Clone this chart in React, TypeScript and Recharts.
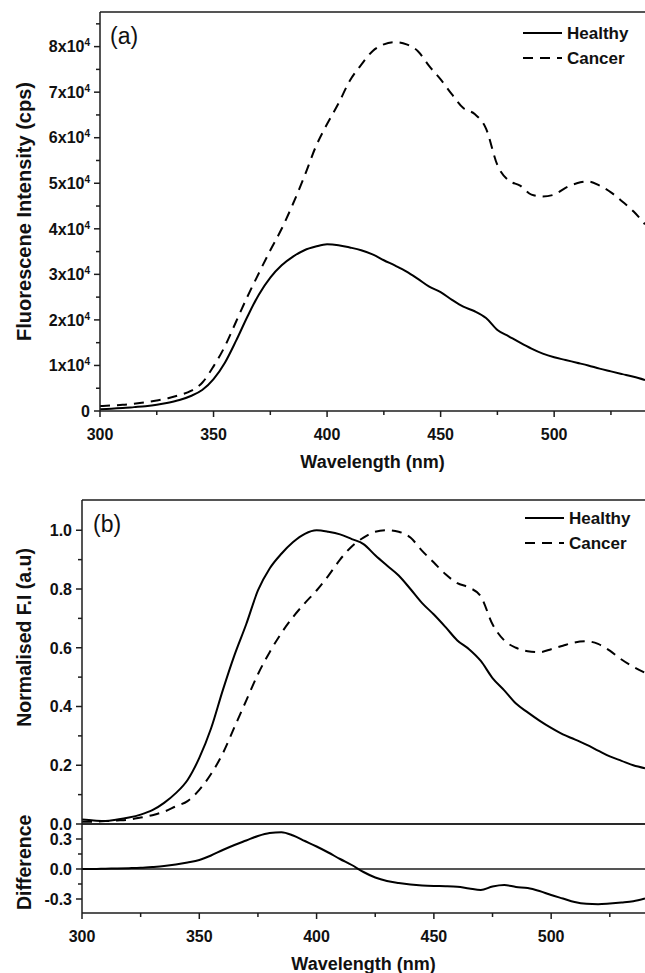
import React from 'react';
import { LineChart, Line, XAxis, YAxis, Legend, Label, ReferenceLine } from 'recharts';

// ---------- data ----------
const wavelengths = [
  300, 305, 310, 315, 320, 325, 330, 335, 340, 345, 350, 355, 360, 365, 370, 375, 380, 385, 390, 395,
  400, 405, 410, 415, 420, 425, 430, 435, 440, 445, 450, 455, 460, 465, 470, 475, 480, 485, 490, 495,
  500, 505, 510, 515, 520, 525, 530, 535, 540,
];

// Panel (a): raw fluorescence intensity (cps)
const healthyRaw = [
  400, 500, 650, 850, 1050, 1350, 1800, 2400, 3300, 4600, 7000, 10600, 15500, 20800, 25600, 29300, 32000, 33900, 35300, 36100,
  36600, 36400, 35900, 35300, 34400, 33100, 31900, 30600, 29000, 27300, 26100, 24400, 22900, 21900, 20400, 17800, 16400, 15000, 13700, 12600,
  11800, 11200, 10600, 10000, 9300, 8700, 8100, 7500, 6800,
];
const cancerRaw = [
  1100, 1200, 1350, 1600, 1900, 2300, 2800, 3500, 4400, 6200, 9800, 14200, 19700, 25200, 30300, 35300, 40000, 45500, 51500, 58000,
  63000, 67500, 72500, 76000, 79000, 80500, 81000, 80500, 79000, 75700, 72800, 69500, 66500, 65200, 62000, 54000, 50600, 49500, 47500, 47100,
  47500, 49000, 50000, 50400, 49500, 48000, 46000, 43800, 41000,
];

// Panel (b): normalised intensity
const healthyNorm = [
  0.015, 0.012, 0.01, 0.015, 0.022, 0.032, 0.047, 0.072, 0.105, 0.15, 0.225, 0.325, 0.455, 0.575, 0.68, 0.795, 0.87, 0.92, 0.96, 0.988,
  1.0, 0.995, 0.986, 0.97, 0.953, 0.915, 0.88, 0.846, 0.8, 0.752, 0.713, 0.67, 0.625, 0.595, 0.555, 0.497, 0.455, 0.41, 0.38, 0.352,
  0.327, 0.305, 0.288, 0.27, 0.25, 0.23, 0.215, 0.2, 0.19,
];
const cancerNorm = [
  0.008, 0.008, 0.01, 0.012, 0.015, 0.022, 0.03, 0.042, 0.06, 0.078, 0.116, 0.17, 0.24, 0.33, 0.42, 0.51, 0.585, 0.65, 0.705, 0.752,
  0.795, 0.845, 0.9, 0.945, 0.975, 0.995, 1.0, 0.995, 0.975, 0.93, 0.89, 0.85, 0.82, 0.805, 0.775, 0.68, 0.625, 0.6, 0.588, 0.585,
  0.595, 0.607, 0.618, 0.622, 0.613, 0.59, 0.56, 0.535, 0.515,
];

// Difference panel
const difference = [
  0.0, 0.0, 0.003, 0.005, 0.008, 0.012, 0.02, 0.03, 0.045, 0.065, 0.09, 0.135, 0.19, 0.24, 0.285, 0.33, 0.36, 0.368, 0.335, 0.28,
  0.225, 0.165, 0.1, 0.04, -0.03, -0.085, -0.12, -0.14, -0.155, -0.165, -0.17, -0.172, -0.178, -0.195, -0.21, -0.175, -0.16, -0.18, -0.19, -0.22,
  -0.26, -0.295, -0.33, -0.348, -0.352, -0.345, -0.335, -0.322, -0.295,
];

// ticks
const xTicks = [300, 325, 350, 375, 400, 425, 450, 475, 500, 525];
const xMajor = [300, 350, 400, 450, 500];
const rawTicks = [0, 5000, 10000, 15000, 20000, 25000, 30000, 35000, 40000, 45000, 50000, 55000, 60000, 65000, 70000, 75000, 80000, 85000];
const rawMajor = [0, 10000, 20000, 30000, 40000, 50000, 60000, 70000, 80000];
const normTicks = [0, 0.1, 0.2, 0.3, 0.4, 0.5, 0.6, 0.7, 0.8, 0.9, 1.0];
const normMajor = [0, 0.2, 0.4, 0.6, 0.8, 1.0];
const diffTicks = [-0.3, -0.15, 0, 0.15, 0.3];
const diffMajor = [-0.3, 0, 0.3];

const seriesOrder = ['healthy', 'cancer'];
const seriesNames = { healthy: 'Healthy', cancer: 'Cancer' };

// ---------- tables ----------
const rawData = wavelengths.map((nm, i) => ({ nm, healthy: healthyRaw[i], cancer: cancerRaw[i] }));
const normData = wavelengths.map((nm, i) => ({ nm, healthy: healthyNorm[i], cancer: cancerNorm[i] }));
const diffData = wavelengths.map((nm, i) => ({ nm, diff: difference[i] }));

// ---------- style ----------
const FONT = "'Liberation Sans', Arial, Helvetica, sans-serif";
const AXIS = '#1c1c1c';
const AXW = 1.5;
const DASH = '10 7';
const TICKFS = 16;

const isIn = (v: number, arr: number[]) => arr.some((m) => Math.abs(m - v) < 1e-9);

const leftTick = (majors: number[], fmt: (v: number) => React.ReactNode) => (props: any) => {
  const { x, y, payload } = props;
  const v = payload.value;
  const major = isIn(v, majors);
  return (
    <g>
      <line x1={x - (major ? 6 : 4)} x2={x} y1={y} y2={y} stroke={AXIS} strokeWidth={AXW} />
      {major && (
        <text x={x - 10} y={y} dy="0.36em" textAnchor="end" fontFamily={FONT} fontWeight="bold" fontSize={TICKFS} fill="#111">
          {fmt(v)}
        </text>
      )}
    </g>
  );
};

const bottomTick = (majors: number[]) => (props: any) => {
  const { x, y, payload } = props;
  const major = isIn(payload.value, majors);
  return (
    <g>
      <line x1={x} x2={x} y1={y} y2={y + (major ? 6 : 4)} stroke={AXIS} strokeWidth={AXW} />
      {major && (
        <text x={x} y={y + 29} textAnchor="middle" fontFamily={FONT} fontWeight="bold" fontSize={TICKFS} fill="#111">
          {payload.value}
        </text>
      )}
    </g>
  );
};

const rawFmt = (v: number) =>
  v === 0 ? (
    '0'
  ) : (
    <>
      {`${v / 10000}x10`}
      <tspan dy={-6} fontSize={10}>4</tspan>
    </>
  );
const decFmt = (v: number) => v.toFixed(1);

const yTitle = (text: string, frac: number, size: number) => (props: any) => {
  const vb = props.viewBox || {};
  const cx = 31;
  const cy = vb.y + vb.height * frac;
  return (
    <text
      x={cx}
      y={cy}
      transform={`rotate(-90, ${cx}, ${cy})`}
      textAnchor="middle"
      fontFamily={FONT}
      fontWeight="bold"
      fontSize={size}
      fill="#111"
    >
      {text}
    </text>
  );
};

const xTitle = (text: string) => (props: any) => {
  const vb = props.viewBox || {};
  return (
    <text x={vb.x + vb.width / 2} y={vb.y + 57} textAnchor="middle" fontFamily={FONT} fontWeight="bold" fontSize={18} fill="#111">
      {text}
    </text>
  );
};

// panel tag placed just inside the plot's top-left corner (attached to the Y axis box)
const panelTag = (text: string, dx: number, dy: number) => (props: any) => {
  const vb = props.viewBox || {};
  return (
    <text x={vb.x + vb.width + dx} y={vb.y + dy} fontFamily={FONT} fontSize={23} fill="#111">
      {text}
    </text>
  );
};

const renderLegend = (props: any) => {
  const payload = [...(props.payload || [])].sort(
    (a: any, b: any) => seriesOrder.indexOf(a.dataKey) - seriesOrder.indexOf(b.dataKey)
  );
  return (
    <svg width={120} height={52} style={{ overflow: 'visible' }}>
      {payload.map((p: any, i: number) => {
        const key = p.dataKey;
        const yy = 13 + i * 25;
        return (
          <g key={key}>
            <line x1={3} x2={42} y1={yy} y2={yy} stroke="#000" strokeWidth={2} strokeDasharray={key === 'cancer' ? DASH : undefined} />
            <text x={47} y={yy + 6} fontFamily={FONT} fontWeight="bold" fontSize={17} fill="#111">
              {p.value}
            </text>
          </g>
        );
      })}
    </svg>
  );
};

const topBorder = (
  <XAxis
    xAxisId="top"
    orientation="top"
    dataKey="nm"
    type="number"
    domain={[300, 540]}
    height={1}
    tick={false}
    tickLine={false}
    axisLine={{ stroke: AXIS, strokeWidth: AXW }}
  />
);

export default function App() {
  return (
    <div style={{ position: 'absolute', left: 0, top: 0, width: 645, height: 973, background: '#fff', overflow: 'hidden' }}>
      {/* Panel (a) */}
      <div style={{ position: 'absolute', left: 0, top: 0 }}>
        <LineChart width={645} height={480} data={rawData} margin={{ top: 11, right: 0, bottom: 0, left: 0 }}>
          <XAxis
            dataKey="nm"
            type="number"
            domain={[300, 540]}
            allowDataOverflow
            ticks={xTicks}
            interval={0}
            height={69}
            tickSize={0}
            tickMargin={0}
            tickLine={false}
            axisLine={{ stroke: AXIS, strokeWidth: AXW }}
            tick={bottomTick(xMajor)}
          >
            <Label content={xTitle('Wavelength (nm)')} />
          </XAxis>
          {topBorder}
          <YAxis
            type="number"
            domain={[0, 87600]}
            allowDataOverflow
            ticks={rawTicks}
            interval={0}
            width={100}
            tickSize={0}
            tickMargin={0}
            tickLine={false}
            axisLine={{ stroke: AXIS, strokeWidth: AXW }}
            tick={leftTick(rawMajor, rawFmt)}
          >
            <Label content={yTitle('Fluorescene Intensity (cps)', 0.5, 20)} />
            <Label content={panelTag('(a)', 10, 32)} />
          </YAxis>
          <Legend
            layout="horizontal"
            verticalAlign="middle"
            align="center"
            wrapperStyle={{ position: 'absolute', left: 520, top: 20, width: 120, height: 52 }}
            content={renderLegend}
          />
          <Line
            type="monotone"
            dataKey="healthy"
            name={seriesNames.healthy}
            stroke="#000"
            strokeWidth={2}
            dot={false}
            activeDot={false}
            isAnimationActive={false}
          />
          <Line
            type="monotone"
            dataKey="cancer"
            name={seriesNames.cancer}
            stroke="#000"
            strokeWidth={2}
            strokeDasharray={DASH}
            dot={false}
            activeDot={false}
            isAnimationActive={false}
          />
        </LineChart>
      </div>

      {/* Panel (b) */}
      <div style={{ position: 'absolute', left: 0, top: 480 }}>
        <LineChart width={645} height={380} data={normData} margin={{ top: 19, right: 0, bottom: 35, left: 0 }}>
          <XAxis
            dataKey="nm"
            type="number"
            domain={[300, 540]}
            allowDataOverflow
            height={1}
            tick={false}
            tickLine={false}
            axisLine={{ stroke: AXIS, strokeWidth: AXW }}
          />
          {topBorder}
          <YAxis
            type="number"
            domain={[0, 1.103]}
            allowDataOverflow
            ticks={normTicks}
            interval={0}
            width={82}
            tickSize={0}
            tickMargin={0}
            tickLine={false}
            axisLine={{ stroke: AXIS, strokeWidth: AXW }}
            tick={leftTick(normMajor, decFmt)}
          >
            <Label content={yTitle('Normalised F.I (a.u)', 0.424, 19.5)} />
            <Label content={panelTag('(b)', 11, 32)} />
          </YAxis>
          <Legend
            layout="horizontal"
            verticalAlign="middle"
            align="center"
            wrapperStyle={{ position: 'absolute', left: 522, top: 25, width: 120, height: 52 }}
            content={renderLegend}
          />
          <Line
            type="monotone"
            dataKey="healthy"
            name={seriesNames.healthy}
            stroke="#000"
            strokeWidth={2}
            dot={false}
            activeDot={false}
            isAnimationActive={false}
          />
          <Line
            type="monotone"
            dataKey="cancer"
            name={seriesNames.cancer}
            stroke="#000"
            strokeWidth={2}
            strokeDasharray={DASH}
            dot={false}
            activeDot={false}
            isAnimationActive={false}
          />
        </LineChart>
      </div>

      {/* Difference panel */}
      <div style={{ position: 'absolute', left: 0, top: 800 }}>
        <LineChart width={645} height={173} data={diffData} margin={{ top: 23, right: 0, bottom: 0, left: 0 }}>
          <XAxis
            dataKey="nm"
            type="number"
            domain={[300, 540]}
            allowDataOverflow
            ticks={xTicks}
            interval={0}
            height={60}
            tickSize={0}
            tickMargin={0}
            tickLine={false}
            axisLine={{ stroke: AXIS, strokeWidth: AXW }}
            tick={bottomTick(xMajor)}
          >
            <Label content={xTitle('Wavelength (nm)')} />
          </XAxis>
          {topBorder}
          <YAxis
            type="number"
            domain={[-0.44, 0.45]}
            allowDataOverflow
            ticks={diffTicks}
            interval={0}
            width={82}
            tickSize={0}
            tickMargin={0}
            tickLine={false}
            axisLine={{ stroke: AXIS, strokeWidth: AXW }}
            tick={leftTick(diffMajor, decFmt)}
          >
            <Label content={yTitle('Difference', 0.43, 19.5)} />
          </YAxis>
          <ReferenceLine y={0} stroke={AXIS} strokeWidth={AXW} />
          <Line
            type="monotone"
            dataKey="diff"
            name="Difference"
            stroke="#000"
            strokeWidth={2}
            dot={false}
            activeDot={false}
            isAnimationActive={false}
          />
        </LineChart>
      </div>
    </div>
  );
}
